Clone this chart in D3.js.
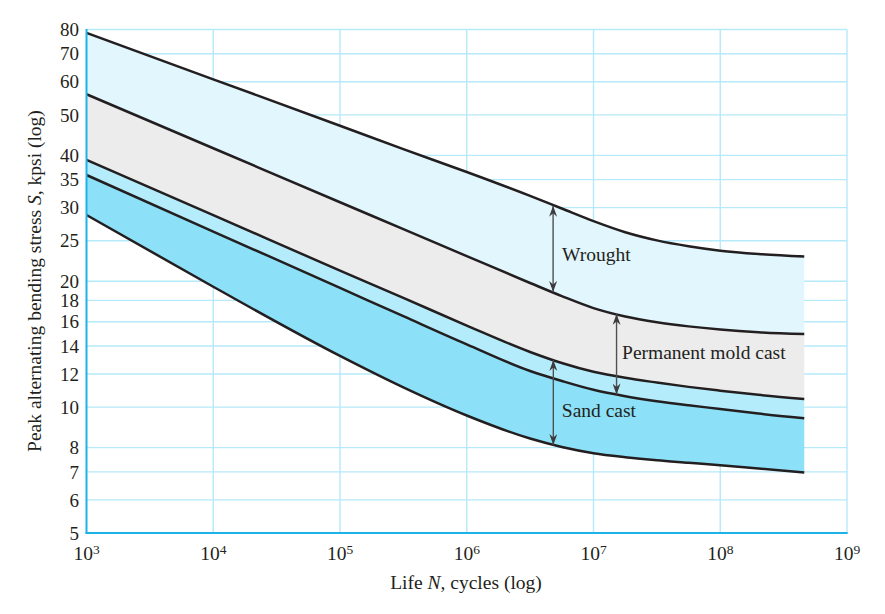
<!DOCTYPE html>
<html>
<head>
<meta charset="utf-8">
<script src="https://cdn.jsdelivr.net/npm/d3@7/dist/d3.min.js"></script>
<style>
  html, body { margin: 0; padding: 0; background: #fff; }
  svg { display: block; font-family: "Liberation Serif", "Times New Roman", serif; }
</style>
</head>
<body>
<svg id="chart" width="885" height="614"></svg>
<script>
// ---------------- data ----------------
const cycles       = [1e3,  1e4,  1e5,  3.16e5, 1e6,  3.16e6, 5.62e6, 1e7,   1.78e7, 3.16e7, 5.62e7, 1e8,  2e8,  4.6e8];
const wroughtUpper = [78.5, 60.8, 47.1, 41.4,   36.5, 32.0,   29.85,  27.85, 26.2,   25.05,  24.25,  23.67, 23.24, 22.92];
const wroughtLower = [56.0, 41.6, 30.9, 26.65,  22.97, 19.81, 18.43,  17.25, 16.47,  15.96,  15.6,   15.33, 15.1,  14.95];
const sandUpper    = [39.0, 28.8, 21.2, 18.25,  15.67, 13.55, 12.75,  12.15, 11.75,  11.45,  11.18,  10.95, 10.7,  10.46];
const permLower    = [35.9, 26.3, 19.28, 16.5,  14.13, 12.2,  11.55,  11.0,  10.62,  10.33,  10.1,   9.9,   9.65,  9.40];
const sandLower    = [28.8, 19.4, 13.26, 11.15, 9.55,  8.41,  8.03,   7.76,  7.59,   7.46,   7.36,   7.26,  7.13,  6.98];

const yTickValues = [5, 6, 7, 8, 10, 12, 14, 16, 18, 20, 25, 30, 35, 40, 50, 60, 70, 80];
const xTickExponents = [3, 4, 5, 6, 7, 8, 9];

const arrowLabels = ["Wrought", "Permanent mold cast", "Sand cast"];
const arrowCycles = [4.8e6, 1.52e7, 4.82e6];
const arrowLow    = [18.85, 10.72, 8.12];
const arrowHigh   = [30.3, 16.7, 12.96];

// ---------------- layout ----------------
const svg = d3.select("#chart");
const pLeft = 86.5, pRight = 847, pTop = 29.5, pBottom = 533;
// label placement relative to arrow midpoint (pixels)
const labelDx = [9, 5.5, 8.5];
const labelDy = [12.5, 4.5, 15];

const x = d3.scaleLog().domain([1e3, 1e9]).range([pLeft, pRight]);
const y = d3.scaleLog().domain([5, 80]).range([pBottom, pTop]);

const gridColor = "#b6e9f9";
const axisColor = "#1cb3ea";
const curveColor = "#231f20";
const textColor = "#231f20";

// grid
const grid = svg.append("g");
grid.selectAll("line.h").data(yTickValues.filter(v => v !== 5)).join("line")
  .attr("class", "h")
  .attr("x1", pLeft).attr("x2", pRight)
  .attr("y1", d => y(d)).attr("y2", d => y(d))
  .attr("stroke", gridColor).attr("stroke-width", 1.4);
grid.selectAll("line.v").data(xTickExponents.filter(e => e !== 3)).join("line")
  .attr("class", "v")
  .attr("x1", d => x(Math.pow(10, d))).attr("x2", d => x(Math.pow(10, d)))
  .attr("y1", pTop).attr("y2", pBottom)
  .attr("stroke", gridColor).attr("stroke-width", 1.4);

// bands
const pts = (arr) => cycles.map((n, i) => [n, arr[i]]);
const band = (upper, lower) => d3.area()
  .x((d, i) => x(cycles[i]))
  .y0((d, i) => y(lower[i]))
  .y1((d, i) => y(upper[i]))
  .curve(d3.curveMonotoneX)(cycles);

const bands = [
  [wroughtUpper, wroughtLower, "#e1f6fd"],
  [wroughtLower, sandUpper, "#ececec"],
  [sandUpper, permLower, "#b5ecfb"],
  [permLower, sandLower, "#8ce0f7"]
];
svg.append("g").selectAll("path").data(bands).join("path")
  .attr("d", d => band(d[0], d[1]))
  .attr("fill", d => d[2]).attr("stroke", "none");

// curves
const line = d3.line().x(d => x(d[0])).y(d => y(d[1])).curve(d3.curveMonotoneX);
svg.append("g").selectAll("path")
  .data([wroughtUpper, wroughtLower, sandUpper, permLower, sandLower]).join("path")
  .attr("d", d => line(pts(d)))
  .attr("fill", "none").attr("stroke", curveColor).attr("stroke-width", 2.5);

// axes lines
svg.append("line").attr("x1", pLeft).attr("x2", pLeft).attr("y1", pTop - 0.5).attr("y2", pBottom + 1)
  .attr("stroke", axisColor).attr("stroke-width", 2);
svg.append("line").attr("x1", pLeft - 1).attr("x2", pRight + 0.7).attr("y1", pBottom).attr("y2", pBottom)
  .attr("stroke", axisColor).attr("stroke-width", 2);

// y tick labels
svg.append("g").selectAll("text").data(yTickValues).join("text")
  .attr("x", 79).attr("y", d => y(d)).attr("dy", "0.35em")
  .attr("text-anchor", "end").attr("font-size", 19).attr("fill", textColor)
  .text(d => d);

// x tick labels (10 with superscript exponent, centred as a whole)
const xt = svg.append("g").selectAll("text").data(xTickExponents).join("text")
  .attr("x", d => x(Math.pow(10, d))).attr("y", 560)
  .attr("text-anchor", "middle").attr("font-size", 19.5).attr("fill", textColor);
xt.append("tspan").text("10");
xt.append("tspan").attr("dy", -6.5).attr("font-size", 13.5).text(d => d);

// axis titles
const xTitle = svg.append("text").attr("x", 466).attr("y", 589).attr("text-anchor", "middle")
  .attr("font-size", 19.5).attr("fill", textColor);
xTitle.append("tspan").text("Life ");
xTitle.append("tspan").attr("font-style", "italic").text("N");
xTitle.append("tspan").text(", cycles (log)");

const yTitle = svg.append("text").attr("transform", "translate(41,281) rotate(-90)")
  .attr("text-anchor", "middle").attr("font-size", 19.5).attr("fill", textColor);
yTitle.append("tspan").text("Peak alternating bending stress ");
yTitle.append("tspan").attr("font-style", "italic").text("S");
yTitle.append("tspan").text(", kpsi (log)");

// arrows
const defs = svg.append("defs");
defs.append("marker").attr("id", "ah").attr("viewBox", "0 0 11 8")
  .attr("refX", 11).attr("refY", 4).attr("markerWidth", 11).attr("markerHeight", 8)
  .attr("markerUnits", "userSpaceOnUse").attr("orient", "auto-start-reverse")
  .append("path").attr("d", "M0,0 L11,4 L0,8 L3.5,4 Z").attr("fill", "#3c3c3e");

const arrowData = arrowLabels.map((l, i) => ({ label: l, n: arrowCycles[i], lo: arrowLow[i], hi: arrowHigh[i], i }));
svg.append("g").selectAll("line").data(arrowData).join("line")
  .attr("x1", d => x(d.n)).attr("x2", d => x(d.n))
  .attr("y1", d => y(d.lo)).attr("y2", d => y(d.hi))
  .attr("stroke", "#505052").attr("stroke-width", 1.4)
  .attr("marker-start", "url(#ah)").attr("marker-end", "url(#ah)");

svg.append("g").selectAll("text").data(arrowData).join("text")
  .attr("x", d => x(d.n) + labelDx[d.i])
  .attr("y", d => (y(d.lo) + y(d.hi)) / 2 + labelDy[d.i])
  .attr("font-size", 19.5).attr("fill", textColor)
  .text(d => d.label);
</script>
</body>
</html>
